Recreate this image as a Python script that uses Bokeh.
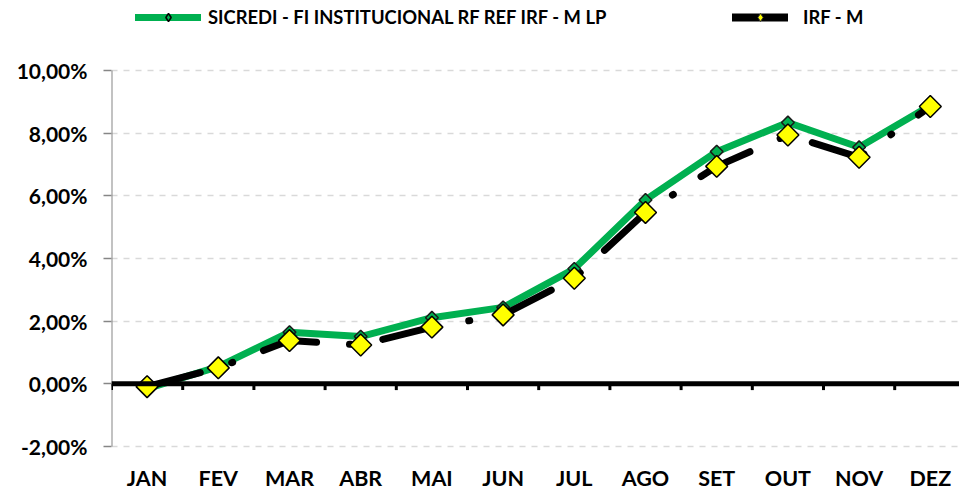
import numpy as np
from bokeh.plotting import figure
from bokeh.models import Range1d, FixedTicker, Span, Legend, LegendItem
from bokeh.core.properties import value
from bokeh.embed import file_html
from bokeh.resources import INLINE

# ---- data -------------------------------------------------------------
months = ["JAN", "FEV", "MAR", "ABR", "MAI", "JUN", "JUL", "AGO", "SET", "OUT", "NOV", "DEZ"]
sicredi = [-0.15, 0.55, 1.65, 1.51, 2.11, 2.44, 3.67, 5.87, 7.41, 8.34, 7.55, 8.88]
irfm = [-0.09, 0.51, 1.38, 1.24, 1.81, 2.20, 3.37, 5.47, 6.94, 7.94, 7.23, 8.85]
y_ticks = [-2, 0, 2, 4, 6, 8, 10]
y_tick_labels = ["-2,00%", "0,00%", "2,00%", "4,00%", "6,00%", "8,00%", "10,00%"]
series_names = ["SICREDI - FI INSTITUCIONAL RF REF IRF - M LP", "IRF - M"]

GREEN = "#00B050"
FONT = "Lato"

x = list(range(1, len(months) + 1))
bounds = [i + 0.5 for i in range(len(months) + 1)]

W, H = 959, 492
p = figure(width=W, height=H, output_backend="svg", toolbar_location=None,
           x_range=Range1d(0.5, 12.41), y_range=Range1d(-3.468, 12.234),
           x_axis_location=None,
           min_border_left=111, min_border_right=0, min_border_top=0,
           min_border_bottom=0)
p.outline_line_color = None
p.background_fill_color = "white"
p.border_fill_color = "white"

# grid
p.xgrid.visible = False
p.ygrid.ticker = FixedTicker(ticks=y_ticks)
p.ygrid.grid_line_color = "#D9D9D9"
p.ygrid.grid_line_width = 1.5
p.ygrid.grid_line_dash = "6 6"

# y axis (line drawn separately so it spans only the tick range)
p.yaxis.ticker = FixedTicker(ticks=y_ticks)
p.yaxis.major_label_overrides = {t: l for t, l in zip(y_ticks, y_tick_labels)}
p.yaxis.axis_line_color = None
p.yaxis.major_tick_line_color = "#868686"
p.yaxis.major_tick_line_width = 1.5
p.yaxis.major_tick_out = 8
p.yaxis.major_tick_in = 0
p.yaxis.minor_tick_line_color = None
p.yaxis.major_label_standoff = 16
p.yaxis.major_label_text_font = FONT
p.yaxis.major_label_text_font_style = "bold"
p.yaxis.major_label_text_font_size = "21px"
p.yaxis.major_label_text_color = "black"
p.segment(x0=[0.5], y0=[y_ticks[0]], x1=[0.5], y1=[y_ticks[-1]],
          line_color="#868686", line_width=2)

# category labels (below the lowest gridline)
p.text(x=x, y=[y_ticks[0]] * len(x), text=months, y_offset=31,
       text_align="center", text_baseline="middle",
       text_font=value(FONT), text_font_style="bold", text_font_size="21.5px",
       text_color="black")

# zero line with category tick marks
p.add_layout(Span(location=0, dimension="width", line_color="black", line_width=5))
p.segment(x0=bounds, y0=[0] * len(bounds), x1=bounds, y1=[-0.2] * len(bounds),
          line_color="black", line_width=3)

# series
g_line = p.line(x, sicredi, line_color=GREEN, line_width=7, line_join="round")
b_line = p.line(x, irfm, line_color="black", line_width=7, line_dash="55 33 1 33",
                line_cap="round", line_join="round")
g_mark = p.scatter(x, sicredi, marker="square", angle=np.pi / 4, size=9,
                   fill_color=GREEN, line_color="#1a1a1a", line_width=1.5)
y_mark = p.scatter(x, irfm, marker="square", angle=np.pi / 4, size=15.5,
                   fill_color="#FFFF00", line_color="black", line_width=1.5)

# legend-only glyphs (placed outside the visible x range)
off_x = [-5, -4]
off_y = [0, 0]
g_leg_line = p.line(off_x, off_y, line_color=GREEN, line_width=7, line_cap="round")
g_leg_mark = p.scatter(off_x, off_y, marker="diamond", size=9,
                       fill_color=GREEN, line_color="black", line_width=1.5)
b_leg_line = p.line(off_x, off_y, line_color="black", line_width=8, line_cap="round")
y_leg_mark = p.scatter(off_x, off_y, marker="diamond", size=9,
                       fill_color="#FFFF00", line_color="#333333", line_width=1)

common = dict(glyph_height=20, padding=0, margin=0, border_line_color=None,
              background_fill_alpha=0, label_text_font=FONT,
              label_text_font_style="bold", label_text_font_size="18.4px",
              label_text_color="black")
leg1 = Legend(items=[LegendItem(label=series_names[0], renderers=[g_leg_line, g_leg_mark])],
              location=(24, 464), glyph_width=66, label_standoff=7, **common)
leg2 = Legend(items=[LegendItem(label=series_names[1], renderers=[b_leg_line, y_leg_mark])],
              location=(621, 464), glyph_width=56, label_standoff=15, **common)
p.add_layout(leg1)
p.add_layout(leg2)

open("out.html", "w").write(file_html(p, INLINE))
